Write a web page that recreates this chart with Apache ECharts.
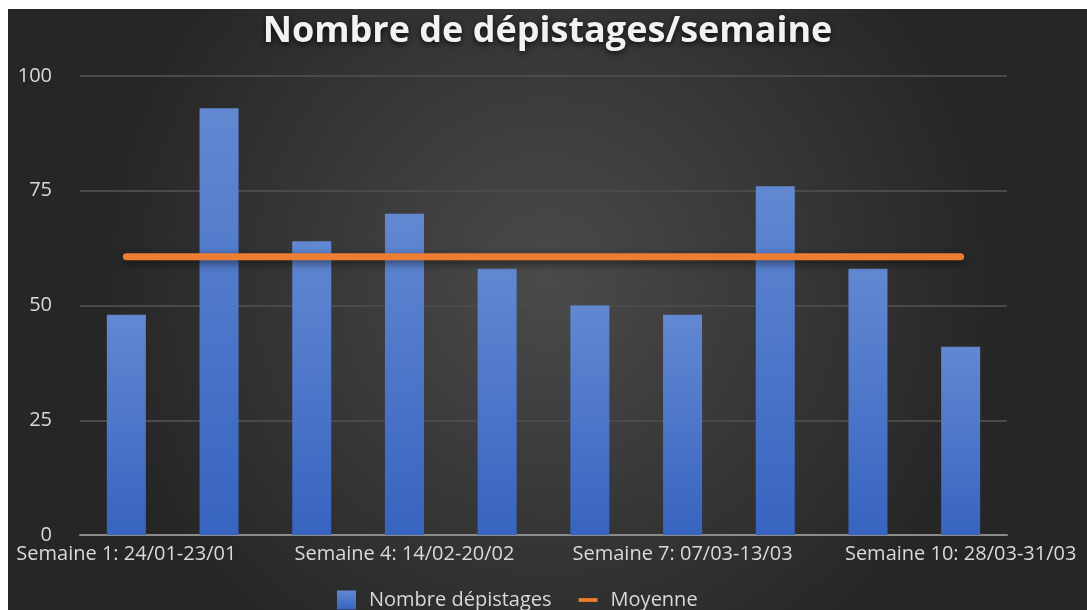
<!DOCTYPE html>
<html>
<head>
<meta charset="utf-8">
<script src="https://cdn.jsdelivr.net/npm/echarts@6/dist/echarts.min.js"></script>
<style>
  html, body { margin: 0; padding: 0; background: #fff; }
  #chart { position: absolute; left: 8px; top: 9px; width: 1079px; height: 601px; }
</style>
</head>
<body>
<div id="chart"></div>
<script>
// données
var semaines = [
  'Semaine 1: 24/01-23/01', 'Semaine 2: 31/01-06/02', 'Semaine 3: 07/02-13/02',
  'Semaine 4: 14/02-20/02', 'Semaine 5: 21/02-27/02', 'Semaine 6: 28/02-06/03',
  'Semaine 7: 07/03-13/03', 'Semaine 8: 14/03-20/03', 'Semaine 9: 21/03-27/03',
  'Semaine 10: 28/03-31/03'
];
var depistages = [48, 93, 64, 70, 58, 50, 48, 76, 58, 41];
var moyenne = [60.6, 60.6, 60.6, 60.6, 60.6, 60.6, 60.6, 60.6, 60.6, 60.6];
var yTicks = [0, 25, 50, 75, 100];

var police = '"Open Sans", "Noto Sans", sans-serif';
var myChart = echarts.init(document.getElementById('chart'));
myChart.setOption({
  backgroundColor: {
    type: 'radial', x: 0.5, y: 0.45, r: 0.75,
    colorStops: [
      { offset: 0, color: '#4a4a4a' },
      { offset: 1, color: '#262626' }
    ]
  },
  title: {
    text: 'Nombre de dépistages/semaine',
    left: 'center',
    top: 0,
    textStyle: {
      color: '#f2f2f2',
      fontFamily: police,
      fontSize: 36,
      fontWeight: 'bold',
      textShadowColor: 'rgba(0,0,0,0.8)',
      textShadowBlur: 6,
      textShadowOffsetY: 2
    }
  },
  legend: {
    left: 324,
    top: 576,
    itemWidth: 19,
    itemHeight: 19,
    itemGap: 27,
    textStyle: { color: '#d9d9d9', fontFamily: police, fontSize: 20, padding: [0, 0, 0, 8] },
    data: [
      { name: 'Nombre dépistages', icon: 'rect' },
      { name: 'Moyenne', icon: 'path://M0,8h20v4h-20z' }
    ]
  },
  grid: { left: 72, right: 80, top: 67, bottom: 75 },
  xAxis: {
    type: 'category',
    data: semaines,
    axisTick: { show: false },
    axisLine: { lineStyle: { color: '#8c8c8c', width: 2 } },
    axisLabel: {
      interval: 2,
      color: '#d9d9d9',
      fontFamily: police,
      fontSize: 20,
      margin: 9
    }
  },
  yAxis: {
    type: 'value',
    min: yTicks[0],
    max: yTicks[yTicks.length - 1],
    interval: 25,
    axisLabel: { color: '#d9d9d9', fontFamily: police, fontSize: 20, margin: 28 },
    splitLine: { lineStyle: { color: '#4a4a4a', width: 2 } }
  },
  series: [
    {
      name: 'Nombre dépistages',
      type: 'bar',
      data: depistages,
      barWidth: 39,
      itemStyle: {
        color: {
          type: 'linear', x: 0, y: 0, x2: 0, y2: 1,
          colorStops: [
            { offset: 0, color: '#6288d2' },
            { offset: 1, color: '#3764c0' }
          ]
        },
        shadowColor: 'rgba(0,0,0,0.55)',
        shadowBlur: 10,
        shadowOffsetX: 2,
        shadowOffsetY: 2
      }
    },
    {
      name: 'Moyenne',
      type: 'line',
      data: moyenne,
      symbol: 'none',
      color: '#ed7d31',
      lineStyle: {
        color: '#ed7d31',
        width: 7,
        cap: 'round',
        shadowColor: 'rgba(0,0,0,0.55)',
        shadowBlur: 8,
        shadowOffsetY: 3
      }
    }
  ]
});
</script>
</body>
</html>
